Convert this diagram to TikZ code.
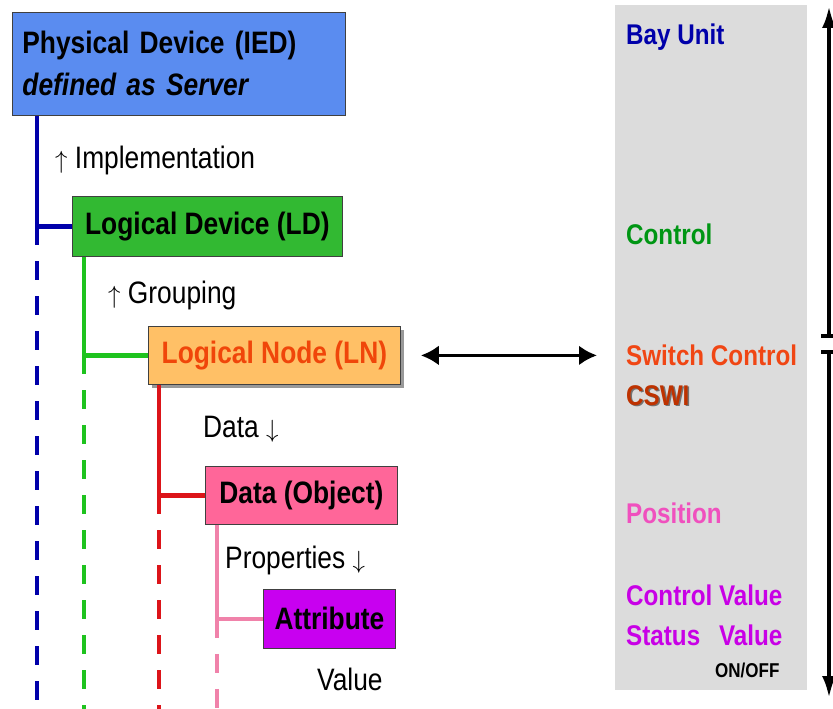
\documentclass[tikz,border=0pt]{standalone}
\usepackage{fontspec}
\setmainfont{Liberation Sans}[FakeStretch=0.85]
\usetikzlibrary{arrows.meta,shadows}

\definecolor{iedblue}{RGB}{90,140,240}
\definecolor{ldgreen}{RGB}{50,185,50}
\definecolor{lnorange}{RGB}{255,192,102}
\definecolor{lntext}{RGB}{240,70,10}
\definecolor{dopink}{RGB}{255,102,153}
\definecolor{attrviolet}{RGB}{200,0,240}
\definecolor{lineblue}{RGB}{0,0,170}
\definecolor{linegreen}{RGB}{30,195,30}
\definecolor{linered}{RGB}{220,20,25}
\definecolor{linepink}{RGB}{240,130,170}
\definecolor{panelgray}{RGB}{220,220,220}
\definecolor{bayblue}{RGB}{0,0,170}
\definecolor{ctrlgreen}{RGB}{0,150,20}
\definecolor{swred}{RGB}{240,70,20}
\definecolor{cswibrown}{RGB}{190,50,0}
\definecolor{pospink}{RGB}{240,80,190}
\definecolor{valviolet}{RGB}{200,0,230}

\tikzset{
  box/.style={draw=black!75, line width=0.8pt, inner sep=0pt, anchor=north west,
    font=\fontsize{31}{42}\selectfont\bfseries},
  lbl/.style={inner sep=0pt, anchor=base west, font=\fontsize{31}{34}\selectfont},
  side/.style={inner sep=0pt, anchor=base west, font=\fontsize{28.5}{30}\selectfont\bfseries},
  tree/.style={line width=4.5pt},
  treedash/.style={line width=4pt, dash pattern=on 19pt off 16pt},
  biarrow/.style={line width=3.5pt, {Latex[length=18pt,width=20pt]}-{Latex[length=18pt,width=20pt]}},
  sidearrow/.style={line width=4pt, {Bar[width=16pt]}-{Latex[length=22pt,width=14pt]}}
}

\begin{document}
\begin{tikzpicture}[x=1pt,y=-1pt]
\useasboundingbox (0,0) rectangle (833,709);
\coordinate (bottom) at (0,709);

\node[fill=panelgray, inner sep=0pt, anchor=north west, minimum width=192pt, minimum height=685pt] (panel) at (615,5) {};

\node[box, fill=iedblue, minimum width=333pt, minimum height=103pt, text width=313pt, align=left] (ied) at (12,12)
  {Physical Device (IED)\\\itshape defined as Server};
\node[box, fill=ldgreen, minimum width=270pt, minimum height=60pt] (ld) at (72,196) {Logical Device (LD)};
\node[box, fill=lnorange, text=lntext, minimum width=252pt, minimum height=58pt,
  drop shadow={shadow xshift=4pt, shadow yshift=-4pt, fill=black!40, opacity=1}] (ln) at (148,326) {Logical Node (LN)};
\node[box, fill=dopink, minimum width=192pt, minimum height=58pt] (do) at (205,466) {Data (Object)};
\node[box, fill=attrviolet, minimum width=132pt, minimum height=59pt] (attr) at (263,589) {Attribute};

\coordinate (bx) at ([xshift=25pt]ied.south west);
\coordinate (gx) at ([xshift=12pt]ld.south west);
\coordinate (rx) at ([xshift=11pt]ln.south west);
\coordinate (px) at ([xshift=12pt]do.south west);

\draw[tree, lineblue] (bx) |- (ld.west);
\draw[treedash, lineblue] (bx |- ld.west) -- (bx |- bottom);
\draw[tree, linegreen] (gx) |- (ln.west);
\draw[treedash, linegreen] (gx |- ln.west) -- (gx |- bottom);
\draw[tree, linered] (rx) |- (do.west);
\draw[treedash, linered] (rx |- do.west) -- (rx |- bottom);
\draw[tree, linepink] (px) |- (attr.west);
\draw[treedash, linepink] (px |- attr.west) -- (px |- bottom);

\node[lbl] (impl) at (55,168) {$\uparrow$ Implementation};
\node[lbl] (grp) at (108,303) {$\uparrow$ Grouping};
\node[lbl] (data) at (203,437) {Data $\downarrow$};
\node[lbl] (prop) at (225,568) {Properties $\downarrow$};
\node[lbl] (val) at (317,690) {Value};

\node[side, text=bayblue] (bay) at (626,45) {Bay Unit};
\node[side, text=ctrlgreen] (ctrl) at (626,244) {Control};
\node[side, text=swred] (swc) at (626,365) {Switch Control};
\node[side, text=black!55] (cswishadow) at (627.5,406.5) {CSWI};
\node[side, text=cswibrown] (cswi) at (626,405) {CSWI};
\node[side, text=pospink] (pos) at (626,523) {Position};
\node[side, text=valviolet] (cval) at (626,605) {Control Value};
\node[side, text=valviolet] (sval) at (626,645) {\rlap{Status}\phantom{Control }Value};
\node[inner sep=0pt, anchor=base west, font=\fontsize{20}{22}\selectfont\bfseries] (onoff) at (715,677) {ON/OFF};

\draw[biarrow, shorten <=20pt, shorten >=29pt] (ln.east) -- (ln.east -| swc.west);

\coordinate (uptop) at (829,6);
\coordinate (upbot) at (829,338);
\coordinate (dntop) at (829,350);
\coordinate (dnbot) at (829,698);
\draw[sidearrow] (upbot) -- (uptop);
\draw[sidearrow] (dntop) -- (dnbot);
\end{tikzpicture}
\end{document}
